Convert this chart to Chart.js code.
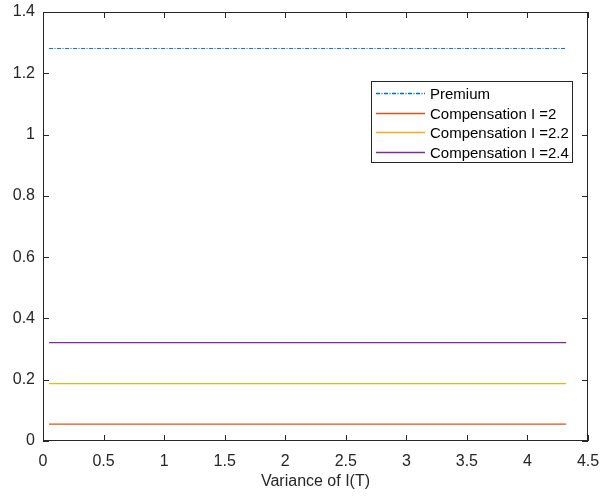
<!DOCTYPE html>
<html>
<head>
<meta charset="utf-8">
<script src="https://cdn.jsdelivr.net/npm/chart.js@4"></script>
<style>
  html, body { margin: 0; padding: 0; background: #fff; }
  #wrap { width: 604px; height: 499px; }
</style>
</head>
<body>
<div id="wrap"><canvas id="chart" width="604" height="499"></canvas></div>
<script>
// values
const variance = [0.05, 0.5, 1, 1.5, 2, 2.5, 3, 3.5, 4, 4.32];
const premium = [1.281, 1.281, 1.281, 1.281, 1.281, 1.281, 1.281, 1.281, 1.281, 1.281];
const comp2 = [0.055, 0.055, 0.055, 0.055, 0.055, 0.055, 0.055, 0.055, 0.055, 0.055];
const comp22 = [0.187, 0.187, 0.187, 0.187, 0.187, 0.187, 0.187, 0.187, 0.187, 0.187];
const comp24 = [0.321, 0.321, 0.321, 0.321, 0.321, 0.321, 0.321, 0.321, 0.321, 0.321];
const seriesNames = ["Premium", "Compensation I =2", "Compensation I =2.2", "Compensation I =2.4"];
const xTicks = [0, 0.5, 1, 1.5, 2, 2.5, 3, 3.5, 4, 4.5];
const yTicks = [0, 0.2, 0.4, 0.6, 0.8, 1, 1.2, 1.4];

const FONT = "'Liberation Sans', Arial, Helvetica, sans-serif";
const colors = ["#0072BD", "#D95319", "#EDB120", "#7E2F8E"];

function toPoints(ys) {
  return ys.map((y, i) => ({ x: variance[i], y: y }));
}

const data = {
  datasets: [
    { label: seriesNames[0], data: toPoints(premium), borderColor: colors[0], borderWidth: 1, borderDash: [4, 1.5, 1, 1.5] },
    { label: seriesNames[1], data: toPoints(comp2), borderColor: colors[1], borderWidth: 1.2 },
    { label: seriesNames[2], data: toPoints(comp22), borderColor: colors[2], borderWidth: 1.2 },
    { label: seriesNames[3], data: toPoints(comp24), borderColor: colors[3], borderWidth: 1.2 },
  ],
};

// box around the axes with inward ticks on all four sides, plus legend inside
const boxPlugin = {
  id: "matlabBox",
  afterDatasetsDraw(chart) {
    const { ctx, chartArea: a, scales } = chart;
    ctx.save();
    ctx.strokeStyle = "#262626";
    ctx.lineWidth = 1;
    ctx.strokeRect(a.left + 0.5, a.top + 0.5, a.right - a.left - 1, a.bottom - a.top - 1);
    ctx.beginPath();
    xTicks.forEach(v => {
      const px = Math.round(scales.x.getPixelForValue(v)) + 0.5;
      ctx.moveTo(px, a.bottom); ctx.lineTo(px, a.bottom - 6);
      ctx.moveTo(px, a.top); ctx.lineTo(px, a.top + 6);
    });
    yTicks.forEach(v => {
      const py = Math.round(scales.y.getPixelForValue(v)) + 0.5;
      ctx.moveTo(a.left, py); ctx.lineTo(a.left + 6, py);
      ctx.moveTo(a.right, py); ctx.lineTo(a.right - 6, py);
    });
    ctx.stroke();

    const lx = 371, ly = 81, lw = 201, lh = 81;
    ctx.fillStyle = "#fff";
    ctx.fillRect(lx, ly, lw, lh);
    ctx.strokeStyle = "#262626";
    ctx.strokeRect(lx + 0.5, ly + 0.5, lw, lh);
    ctx.font = "15px " + FONT;
    ctx.textBaseline = "middle";
    chart.data.datasets.forEach((ds, i) => {
      const y = Math.round(ly + 12 + i * 19.7) + 0.5;
      ctx.strokeStyle = colors[i];
      ctx.lineWidth = 1.3;
      ctx.setLineDash(ds.borderDash || []);
      ctx.beginPath();
      ctx.moveTo(376, y);
      ctx.lineTo(425, y);
      ctx.stroke();
      ctx.setLineDash([]);
      ctx.fillStyle = "#000";
      ctx.fillText(ds.label, 430, y + 1);
    });
    ctx.restore();
  },
};

const config = {
  type: "line",
  data: data,
  options: {
    responsive: false,
    animation: false,
    layout: { padding: { top: 12, right: 16, left: 0, bottom: 0 } },
    elements: { point: { radius: 0 }, line: { tension: 0 } },
    plugins: {
      legend: { display: false },
      tooltip: { enabled: false },
    },
    scales: {
      x: {
        type: "linear",
        min: 0,
        max: 4.5,
        afterBuildTicks: s => { s.ticks = xTicks.map(v => ({ value: v })); },
        afterFit: s => { s.height = 58; s.paddingLeft = 0; s.paddingRight = 0; },
        grid: { display: false, drawTicks: false },
        border: { display: false },
        ticks: { color: "#262626", font: { family: FONT, size: 16 }, padding: 11, maxRotation: 0, callback: v => String(v) },
        title: { display: true, text: "Variance of I(T)", color: "#262626", font: { family: FONT, size: 16 }, padding: { top: 1, bottom: 8 } },
      },
      y: {
        type: "linear",
        min: 0,
        max: 1.4,
        afterBuildTicks: s => { s.ticks = yTicks.map(v => ({ value: v })); },
        afterFit: s => { s.width = 43; s.paddingTop = 0; s.paddingBottom = 0; },
        grid: { display: false, drawTicks: false },
        border: { display: false },
        ticks: { color: "#262626", font: { family: FONT, size: 16 }, padding: 8, callback: v => String(v) },
      },
    },
  },
  plugins: [boxPlugin],
};

const myChart = new Chart(document.getElementById("chart"), config);
</script>
</body>
</html>
